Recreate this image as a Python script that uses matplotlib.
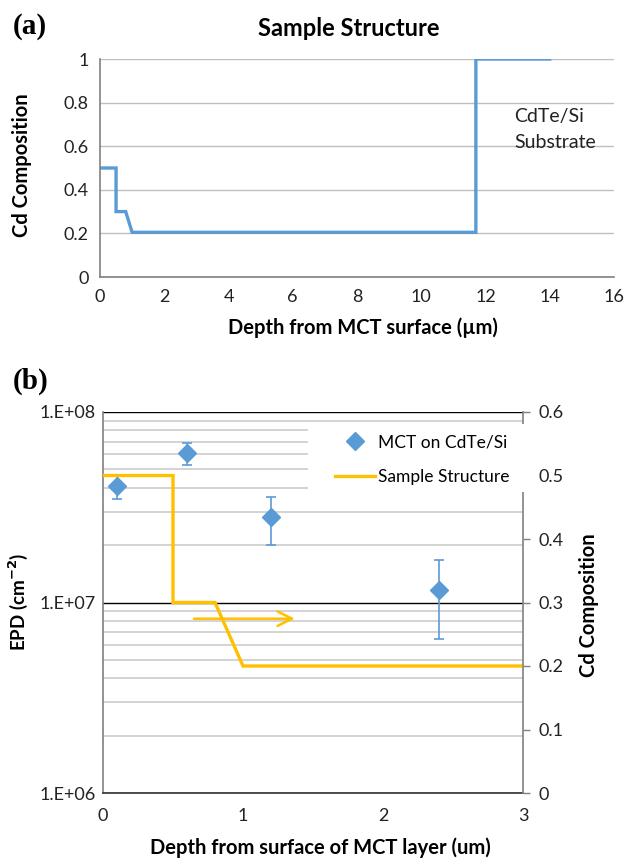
import matplotlib
matplotlib.use("Agg")
import matplotlib.pyplot as plt
from matplotlib.lines import Line2D
from matplotlib.patches import Rectangle
from matplotlib.ticker import LogLocator, FixedLocator, NullFormatter

plt.rcParams['font.family'] = ['Lato', 'DejaVu Sans']

# ---- data (a) ----
a_depth = [0, 0.5, 0.5, 0.8, 1.0, 11.7, 11.7, 14.0]
a_cd = [0.5, 0.5, 0.3, 0.3, 0.205, 0.205, 1.0, 1.0]
a_xticks = [0, 2, 4, 6, 8, 10, 12, 14, 16]
a_yticks = [0, 0.2, 0.4, 0.6, 0.8, 1.0]
a_yticklabels = ['0', '0.2', '0.4', '0.6', '0.8', '1']

# ---- data (b) ----
b_depth = [0.1, 0.6, 1.2, 2.4]
b_epd = [4.1e7, 6.1e7, 2.8e7, 1.16e7]
b_epd_hi = [4.6e7, 6.9e7, 3.6e7, 1.67e7]
b_epd_lo = [3.5e7, 5.25e7, 2.0e7, 6.4e6]
b_struct_depth = [0, 0.5, 0.5, 0.8, 1.0, 3.0]
b_struct_cd = [0.5, 0.5, 0.3, 0.3, 0.2, 0.2]
b_yticks_right = [0, 0.1, 0.2, 0.3, 0.4, 0.5, 0.6]
b_yticklabels_right = ['0', '0.1', '0.2', '0.3', '0.4', '0.5', '0.6']
b_yticks_left = [1e6, 1e7, 1e8]
b_yticklabels_left = ['1.E+06', '1.E+07', '1.E+08']
b_xticks = [0, 1, 2, 3]

W, H = 626, 858
fig = plt.figure(figsize=(W / 100, H / 100), dpi=100)

def fx(px):
    return px / W

def fy(py):
    return 1 - py / H

BLUE = '#5B9BD5'
YEL = '#FFC000'
GRID = '#BFBFBF'
SPINE = '#808080'
TICKFS = 13
LABFS = 14.5

# ================= (a) =================
axa = fig.add_axes([fx(100), fy(277), fx(614) - fx(100), fy(59) - fy(277)])
axa.plot(a_depth, a_cd, color=BLUE, lw=2.4, solid_joinstyle='miter')
axa.set_xlim(0, 16)
axa.set_ylim(0, 1)
axa.set_xticks(a_xticks)
axa.set_xticklabels([str(t) for t in a_xticks])
axa.set_yticks(a_yticks)
axa.set_yticklabels(a_yticklabels)
axa.tick_params(length=0, labelsize=TICKFS, colors='#222222')
axa.tick_params(axis='x', pad=9)
axa.tick_params(axis='y', pad=8)
axa.yaxis.grid(True, color=GRID, lw=1)
axa.set_axisbelow(True)
for s in ['top', 'right']:
    axa.spines[s].set_visible(False)
for s in ['left', 'bottom']:
    axa.spines[s].set_color(SPINE)
    axa.spines[s].set_linewidth(1.2)
axa.text(12.9, 0.735, 'CdTe/Si', fontsize=14, va='center', ha='left', color='#222222')
axa.text(12.9, 0.615, 'Substrate', fontsize=14, va='center', ha='left', color='#222222')

fig.text(fx(349), fy(28), 'Sample Structure', fontsize=17, fontweight='bold',
         ha='center', va='center')
fig.text(fx(363), fy(328), 'Depth from MCT surface (µm)', fontsize=LABFS, fontweight='bold',
         ha='center', va='center')
fig.text(fx(22), fy(165), 'Cd Composition', fontsize=LABFS, fontweight='bold',
         ha='center', va='center', rotation=90)
fig.text(fx(13), fy(27), '(a)', fontsize=21, fontweight='bold', ha='left', va='center',
         family='Liberation Serif')

# ================= (b) =================
axb = fig.add_axes([fx(103), fy(793), fx(523) - fx(103), fy(412) - fy(793)])
axb.set_yscale('log')
axb.set_ylim(1e6, 1e8)
axb.set_xlim(0, 3)
err_lo = [v - l for v, l in zip(b_epd, b_epd_lo)]
err_hi = [h - v for v, h in zip(b_epd, b_epd_hi)]
axb.errorbar(b_depth, b_epd, yerr=[err_lo, err_hi], fmt='D', color=BLUE,
             ecolor=BLUE, elinewidth=1.2, capsize=3.5, capthick=1.2, markersize=9,
             zorder=3)
axb.yaxis.set_major_locator(FixedLocator(b_yticks_left))
axb.set_yticklabels(b_yticklabels_left)
axb.yaxis.set_minor_locator(LogLocator(base=10, subs=[2, 3, 4, 5, 6, 7, 8, 9]))
axb.yaxis.set_minor_formatter(NullFormatter())
axb.yaxis.grid(True, which='major', color='black', lw=1)
axb.yaxis.grid(True, which='minor', color='#D0D0D0', lw=1.3)
axb.set_axisbelow(True)
axb.set_xticks(b_xticks)
axb.set_xticklabels([str(t) for t in b_xticks])
axb.tick_params(axis='both', which='both', length=0, labelsize=TICKFS, colors='#222222')
axb.tick_params(axis='x', pad=11)
axb.tick_params(axis='y', pad=5)
axb.spines['top'].set_visible(False)
axb.spines['right'].set_visible(False)
axb.spines['left'].set_color(SPINE)
axb.spines['left'].set_linewidth(1.2)
axb.spines['bottom'].set_color('#333333')
axb.spines['bottom'].set_linewidth(1.2)

ax2 = axb.twinx()
ax2.plot(b_struct_depth, b_struct_cd, color=YEL, lw=2.4, solid_joinstyle='miter', zorder=2)
ax2.set_ylim(0, 0.6)
ax2.set_yticks(b_yticks_right)
ax2.set_yticklabels(b_yticklabels_right)
ax2.tick_params(axis='y', length=5, width=1, direction='out',
                labelsize=TICKFS, pad=6, labelcolor='#222222', color=SPINE)
for s in ['top', 'left', 'bottom']:
    ax2.spines[s].set_visible(False)
ax2.spines['right'].set_color(SPINE)
ax2.spines['right'].set_linewidth(1.2)
ax2.annotate('', xy=(1.37, 0.2745), xytext=(0.65, 0.2745),
             arrowprops=dict(arrowstyle='->', color=YEL, lw=1.8,
                             mutation_scale=26, shrinkA=0, shrinkB=0))

# legend background box (covers gridlines and part of right spine)
ax2.add_patch(Rectangle((0.488, 0.79), 0.53, 0.178, transform=ax2.transAxes,
                        facecolor='white', edgecolor='none', zorder=4, clip_on=False))
handles = [Line2D([], [], marker='D', ls='none', color=BLUE, markersize=9),
           Line2D([], [], color=YEL, lw=2.4)]
leg = ax2.legend(handles, ['MCT on CdTe/Si', 'Sample Structure'], loc='upper left',
                 bbox_to_anchor=(0.54, 0.955), frameon=False, fontsize=12.5,
                 handlelength=2.3, handletextpad=0.2, labelspacing=1.05,
                 borderaxespad=0, borderpad=0.3)
leg.set_zorder(6)

fig.text(fx(320), fy(848), 'Depth from surface of MCT layer (um)', fontsize=LABFS,
         fontweight='bold', ha='center', va='center')
fig.text(fx(18), fy(602), 'EPD (cm$^{\\mathbf{-2}}$)', fontsize=13.5, fontweight='bold',
         ha='center', va='center', rotation=90)
fig.text(fx(589), fy(605), 'Cd Composition', fontsize=LABFS, fontweight='bold',
         ha='center', va='center', rotation=90)
fig.text(fx(13), fy(381), '(b)', fontsize=21, fontweight='bold', ha='left', va='center',
         family='Liberation Serif')

fig.savefig('out.png', dpi=100)
